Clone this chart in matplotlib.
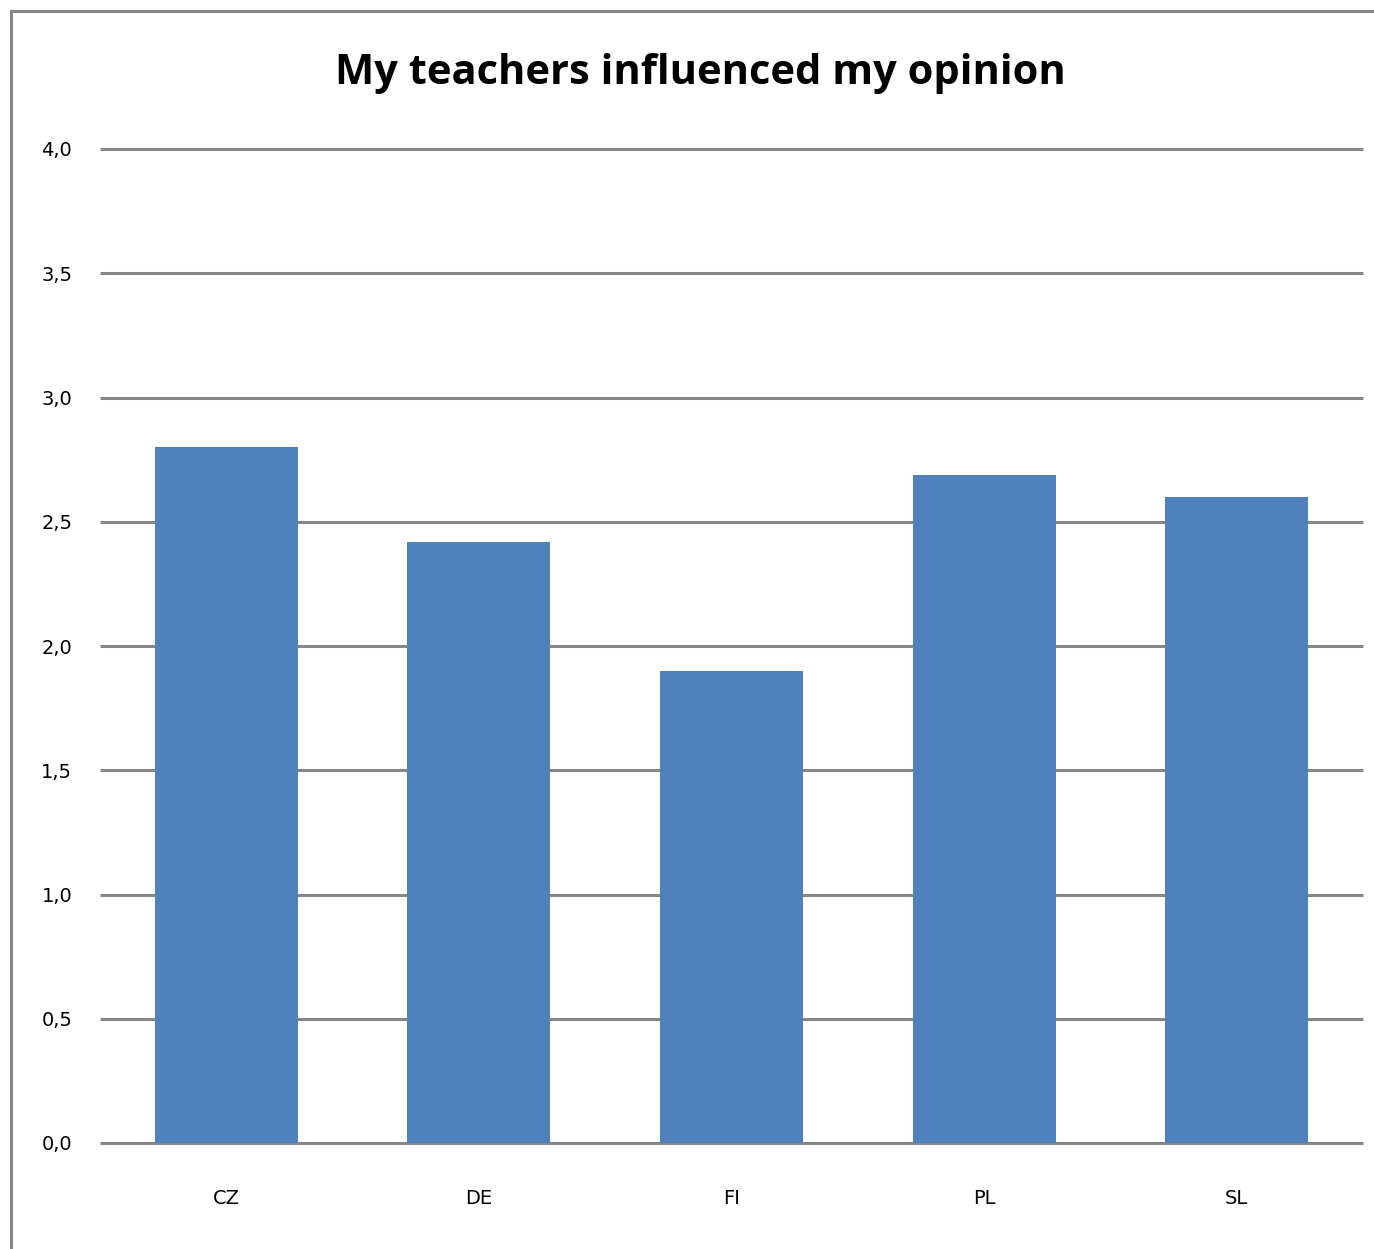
import matplotlib
matplotlib.use("Agg")
import matplotlib.pyplot as plt
from matplotlib.lines import Line2D

categories = ["CZ", "DE", "FI", "PL", "SL"]
values = [2.80, 2.42, 1.90, 2.69, 2.60]
yticks = [0.0, 0.5, 1.0, 1.5, 2.0, 2.5, 3.0, 3.5, 4.0]
ytick_labels = ["0,0", "0,5", "1,0", "1,5", "2,0", "2,5", "3,0", "3,5", "4,0"]
title = "My teachers influenced my opinion"

W, H = 1374, 1249
fig = plt.figure(figsize=(W / 100, H / 100), dpi=100)
ax = fig.add_axes([100 / W, 1 - 1143 / H, (1363 - 100) / W, (1143 - 149) / H])

grid_color = "#878787"
x = list(range(len(categories)))
ax.bar(x, values, width=0.566, color="#4F81BD", zorder=3)
ax.set_xlim(-0.5, len(categories) - 0.5)
ax.set_ylim(0, 4.0)
ax.set_yticks(yticks)
ax.set_yticklabels(ytick_labels)
ax.set_xticks(x)
ax.set_xticklabels(categories)
for y in yticks:
    ax.axhline(y, color=grid_color, lw=2.2, zorder=2, solid_capstyle="butt", clip_on=False)
for s in ax.spines.values():
    s.set_visible(False)
ax.tick_params(axis="both", length=0, labelsize=14, colors="#000000")
ax.tick_params(axis="y", pad=20)
ax.tick_params(axis="x", pad=33)

fig.text(700 / W, 1 - 74 / H, title, ha="center", va="center",
         fontsize=30, fontweight="bold", family="Open Sans")

# chart area border (top and left visible)
fig.add_artist(Line2D([10.5 / W, 10.5 / W], [0, 1 - 10.5 / H], transform=fig.transFigure,
                      color="#868686", lw=2.2))
fig.add_artist(Line2D([10.5 / W, 1], [1 - 10.5 / H, 1 - 10.5 / H], transform=fig.transFigure,
                      color="#868686", lw=2.2))

fig.savefig("out.png", dpi=100)
